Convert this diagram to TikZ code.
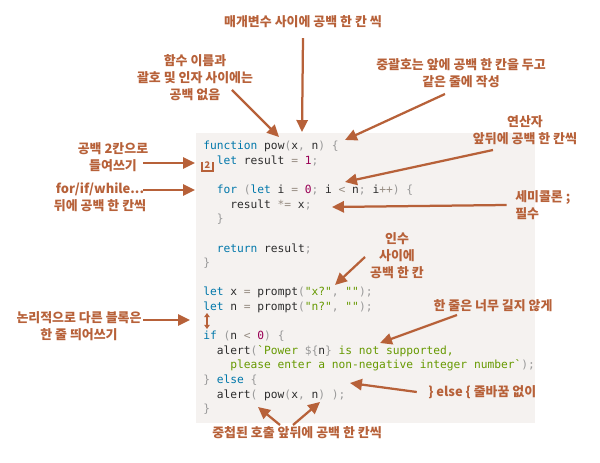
\documentclass[tikz,border=0pt]{standalone}
\usepackage{fontspec}
\setmonofont{DejaVu Sans Mono}
\newfontfamily\kr{Noto Sans CJK KR}
\usetikzlibrary{arrows.meta}

\definecolor{notebrown}{RGB}{183,97,57}
\definecolor{codebg}{RGB}{245,242,240}
\definecolor{codetext}{RGB}{45,45,45}
\definecolor{codekw}{RGB}{0,119,170}
\definecolor{codenum}{RGB}{153,0,85}
\definecolor{codestr}{RGB}{102,153,0}
\definecolor{codepunct}{RGB}{153,153,153}
\definecolor{codeop}{RGB}{150,140,130}

\newcommand{\cKw}[1]{\textcolor{codekw}{#1}}
\newcommand{\cNu}[1]{\textcolor{codenum}{#1}}
\newcommand{\cSt}[1]{\textcolor{codestr}{#1}}
\newcommand{\cPu}[1]{\textcolor{codepunct}{#1}}
\newcommand{\cOp}[1]{\textcolor{codeop}{#1}}

\begin{document}
\begin{tikzpicture}[x=0.25mm, y=-0.25mm,
  note/.style={text=notebrown, font=\kr\bfseries\fontsize{9.2}{12}\selectfont, align=center, inner sep=0pt},
  codeline/.style={anchor=base west, inner sep=0pt, text=codetext, font=\ttfamily\fontsize{8}{10}\selectfont},
  pointer/.style={draw=notebrown, line width=1.6pt, -{Triangle[length=8.5pt, width=8pt]}}]
\useasboundingbox (0, 0) rectangle (600, 463);
\fill[codebg] (196, 133) rectangle (535, 423);

% code lines
\node[codeline] (l1) at (203, 150) {\cKw{function} pow\cPu{(}x\cPu{,} n\cPu{)} \cPu{\{}};
\node[codeline] (l2) at (216.5, 164.6) {\cKw{let} result \cOp{=} \cNu{1}\cPu{;}};
\node[codeline] (l4) at (216.5, 193.8) {\cKw{for} \cPu{(}\cKw{let} i \cOp{=} \cNu{0}\cPu{;} i \cOp{<} n\cPu{;} i\cOp{++}\cPu{)} \cPu{\{}};
\node[codeline] (l5) at (230, 208.4) {result \cOp{*=} x\cPu{;}};
\node[codeline] (l6) at (216.5, 223) {\cPu{\}}};
\node[codeline] (l8) at (216.5, 252.2) {\cKw{return} result\cPu{;}};
\node[codeline] (l9) at (203, 266.8) {\cPu{\}}};
\node[codeline] (l11) at (203, 296) {\cKw{let} x \cOp{=} prompt\cPu{(}\cSt{"x?"}\cPu{,} \cSt{""}\cPu{);}};
\node[codeline] (l12) at (203, 310.6) {\cKw{let} n \cOp{=} prompt\cPu{(}\cSt{"n?"}\cPu{,} \cSt{""}\cPu{);}};
\node[codeline] (l14) at (203, 339.8) {\cKw{if} \cPu{(}n \cOp{<} \cNu{0}\cPu{)} \cPu{\{}};
\node[codeline] (l15) at (216.5, 354.4) {alert\cPu{(}\cSt{`Power }\cPu{\$\{}n\cPu{\}} \cSt{is not supported,}};
\node[codeline] (l16) at (230, 369) {\cSt{please enter a non-negative integer number`}\cPu{);}};
\node[codeline] (l17) at (203, 383.6) {\cPu{\}} \cKw{else} \cPu{\{}};
\node[codeline] (l18) at (216.5, 398.2) {alert\cPu{(} pow\cPu{(}x\cPu{,} n\cPu{)} \cPu{);}};
\node[codeline] (l19) at (203, 412.8) {\cPu{\}}};

% notes
\node[note] (params) at (303, 22) {매개변수 사이에 공백 한 칸 씩};
\node[note] (noname) at (195, 78) {함수 이름과\\괄호 및 인자 사이에는\\공백 없음};
\node[note] (brace) at (461, 73) {중괄호는 앞에 공백 한 칸을 두고\\같은 줄에 작성};
\node[note] (oper) at (525, 130) {연산자\\앞뒤에 공백 한 칸씩};
\node[note, align=left, anchor=west] (semi) at (515, 205) {세미콜론 ;\\필수};
\node[note] (indent) at (113, 157) {공백 2칸으로\\들여쓰기};
\node[note] (loops) at (100, 197) {for/if/while...\\뒤에 공백 한 칸씩};
\node[note] (args) at (397, 256) {인수\\사이에\\공백 한 칸};
\node[note] (longline) at (493, 306) {한 줄은 너무 길지 않게};
\node[note] (blocks) at (79, 326) {논리적으로 다른 블록은\\한 줄 띄어쓰기};
\node[note, anchor=west] (elseline) at (428, 392) {\} else \{ 줄바꿈 없이};
\node[note] (nested) at (297, 433) {중첩된 호출 앞뒤에 공백 한 칸씩};

% arrow ends
\coordinate (h1) at (302, 132);
\coordinate (t2) at (232, 90);
\coordinate (h2) at (279, 137);
\coordinate (t3) at (445, 94);
\coordinate (h3) at (345, 140);
\coordinate (t4) at (493, 150);
\coordinate (h4) at (345, 182);
\coordinate (h5) at (332, 207);
\coordinate (h6) at (195, 163);
\coordinate (h7) at (195, 190);
\coordinate (t8) at (365, 257);
\coordinate (h8) at (335, 285);
\coordinate (t9) at (457, 315);
\coordinate (h9) at (380, 343);
\coordinate (h10) at (190, 320);
\coordinate (h11) at (350, 383);
\coordinate (t12a) at (280, 425);
\coordinate (h12a) at (258, 407);
\coordinate (t12b) at (293, 425);
\coordinate (h12b) at (320, 402);

\draw[pointer] ([yshift=-7pt]params.south) -- (h1);
\draw[pointer] (t2) -- (h2);
\draw[pointer] (t3) -- (h3);
\draw[pointer] (t4) -- (h4);
\draw[pointer] ([xshift=-6pt]semi.west) -- (h5);
\draw[pointer] (143, 163) -- (h6);
\draw[pointer] (143, 190) -- (h7);
\draw[pointer] (t8) -- (h8);
\draw[pointer] (t9) -- (h9);
\draw[pointer] (143, 320) -- (h10);
\draw[pointer] ([xshift=-8pt]elseline.west) -- (h11);
\draw[pointer] (t12a) -- (h12a);
\draw[pointer] (t12b) -- (h12b);

% indent mark and blank line mark
\draw[notebrown, line width=1pt] (202, 162) -- (202, 171) -- (213, 171) -- (213, 162);
\node[text=notebrown, font=\kr\bfseries\fontsize{6.5}{7}\selectfont, inner sep=0pt] (two) at (207.5, 165.5) {2};
\draw[notebrown, line width=1pt, {Triangle[length=3pt, width=4pt]}-{Triangle[length=3pt, width=4pt]}] (207, 313) -- (207, 329);
\end{tikzpicture}
\end{document}
